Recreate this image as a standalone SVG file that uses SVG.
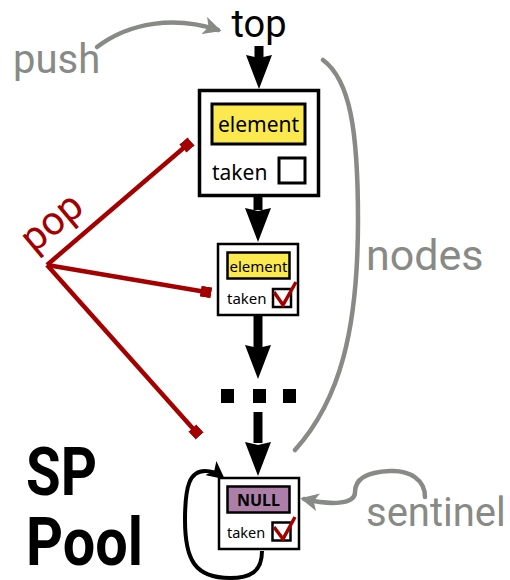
<svg xmlns="http://www.w3.org/2000/svg" width="510" height="580" viewBox="0 0 510 580">
<style>
.box{fill:#fff;stroke:#000}
.el{fill:#fce94f;stroke:#000}
.nul{fill:#ad7fa8;stroke:#000}
.cb{fill:#fff;stroke:#000}
.chk{fill:none;stroke:#a40000;stroke-width:3.5;stroke-linejoin:miter}
.lbl{font-family:"Noto Sans","Open Sans",sans-serif;fill:#000}
.gray{font-family:Roboto,"Liberation Sans",sans-serif;font-size:40px;fill:#888a85}
.gl{fill:none;stroke:#888a85;stroke-width:4.5;stroke-linecap:round}
.rl{fill:none;stroke:#a40000;stroke-width:4.5;marker-end:url(#sq)}
.shaft{stroke:#000;stroke-width:9}
</style>
<defs>
<marker id="ga" viewBox="0 0 10 10" refX="8" refY="5" markerWidth="4" markerHeight="4" orient="auto" markerUnits="strokeWidth">
<path d="M0,0 L10,5 L0,10 L2.5,5 Z" fill="#888a85"/>
</marker>
<marker id="ba" viewBox="0 0 10 10" refX="8" refY="5" markerWidth="4.5" markerHeight="4.5" orient="auto" markerUnits="strokeWidth">
<path d="M0,0 L10,5 L0,10 L2.5,5 Z" fill="#000"/>
</marker>
<marker id="sq" viewBox="0 0 10 10" refX="5" refY="5" markerWidth="2.4" markerHeight="2.4" orient="auto" markerUnits="strokeWidth">
<rect x="0" y="0" width="10" height="10" fill="#a40000"/>
</marker>
<path id="ah" d="M-13,0 L0,3 L13,0 L0,34 Z" fill="#000"/>
</defs>

<g id="connectors">
<line class="shaft" x1="259" y1="46" x2="259" y2="58"/>
<use href="#ah" x="259" y="55"/>
<line class="shaft" x1="258" y1="196" x2="258" y2="210"/>
<use href="#ah" x="258" y="208"/>
<line class="shaft" x1="258" y1="316" x2="258" y2="348"/>
<use href="#ah" x="258" y="345"/>
<line class="shaft" x1="258" y1="412" x2="258" y2="443"/>
<use href="#ah" x="258" y="442"/>
<path class="gl" d="M97,47 C130,22 175,16 218,30" marker-end="url(#ga)"/>
<path class="gl" d="M323,60 C350,80 358,130 358,220 C358,330 340,400 295,450"/>
<path class="gl" d="M425,497 C425,480 410,470 390,471 C365,472 355,480 355,492 C355,505 330,505 304,499" marker-end="url(#ga)"/>
<path class="rl" d="M47,265 L187,145"/>
<path class="rl" d="M47,265 L206,292"/>
<path class="rl" d="M47,265 L196,432"/>
<path d="M262,551 C262,572 250,578 230,578 C195,578 185,560 185,520 C185,485 190,471 205,471 C212,471 217,473 222,477" fill="none" stroke="#000" stroke-width="4" marker-end="url(#ba)"/>
</g>

<g id="node-top">
<rect class="box" x="199.5" y="90.5" width="119" height="105" stroke-width="3.5"/>
<rect class="el" x="212" y="104" width="93" height="40" stroke-width="3"/>
<text class="lbl" x="258.5" y="132" font-size="21" text-anchor="middle">element</text>
<text class="lbl" x="212" y="180" font-size="21">taken</text>
<rect class="cb" x="279" y="158" width="26" height="25" stroke-width="3"/>
</g>

<g id="node-mid">
<rect class="box" x="218" y="244" width="80" height="71" stroke-width="2.5"/>
<rect class="el" x="227.5" y="252.5" width="62" height="26" stroke-width="2.5"/>
<text class="lbl" x="258.5" y="272" font-size="15" text-anchor="middle">element</text>
<text class="lbl" x="227" y="304" font-size="15">taken</text>
<rect class="cb" x="273" y="289" width="18" height="18" stroke-width="2.5"/>
<polyline class="chk" points="274,292 283,305 296,282"/>
</g>

<g id="dots">
<rect x="221" y="389" width="13" height="14" fill="#000"/>
<rect x="253" y="389" width="13" height="14" fill="#000"/>
<rect x="283" y="389" width="13" height="14" fill="#000"/>
</g>

<g id="node-sentinel">
<rect class="box" x="219" y="478" width="80" height="71" stroke-width="2.5"/>
<rect class="nul" x="227.5" y="486.5" width="62" height="26" stroke-width="2.5"/>
<text class="lbl" x="258.5" y="506" font-size="16" font-weight="bold" text-anchor="middle">NULL</text>
<text class="lbl" x="227" y="538" font-size="14.5">taken</text>
<rect class="cb" x="272.5" y="522.5" width="18" height="18" stroke-width="2.5"/>
<polyline class="chk" points="274,527 283,539 295,517"/>
</g>

<g id="labels">
<text x="259" y="37" font-family="Roboto,'Liberation Sans',sans-serif" font-size="38" text-anchor="middle" fill="#000">top</text>
<text class="gray" x="13" y="73">push</text>
<text class="gray" x="366" y="270" font-size="43" style="font-size:43px">nodes</text>
<text class="gray" x="366" y="526">sentinel</text>
<text x="0" y="0" font-family="Roboto,'Liberation Sans',sans-serif" font-size="40" fill="#a40000" text-anchor="middle" transform="translate(60,232) rotate(-40)">pop</text>
<text x="26" y="495" font-family="Roboto,'Liberation Sans',sans-serif" font-size="66" font-weight="bold" fill="#000" textLength="71" lengthAdjust="spacingAndGlyphs">SP</text>
<text x="26" y="565" font-family="Roboto,'Liberation Sans',sans-serif" font-size="66" font-weight="bold" fill="#000" textLength="117" lengthAdjust="spacingAndGlyphs">Pool</text>
</g>
</svg>
